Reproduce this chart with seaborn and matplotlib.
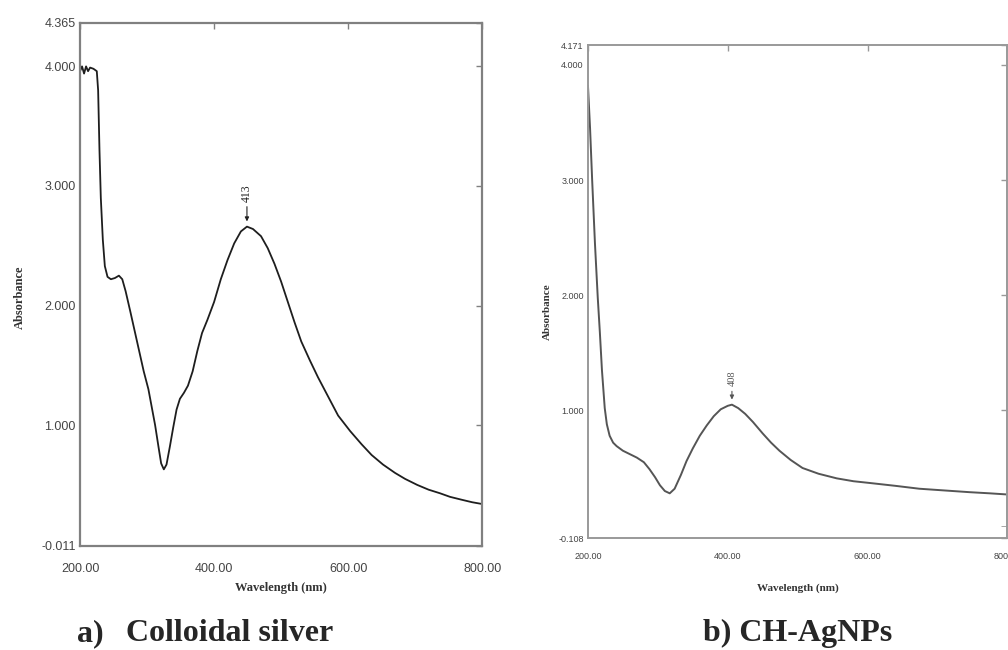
import matplotlib
matplotlib.use("Agg")
import matplotlib.pyplot as plt
import seaborn as sns
import pandas as pd

# Panel a: Colloidal silver
wl_a = [200, 203, 206, 209, 212, 215, 220, 225, 227, 229, 231, 234, 237, 241, 246, 252, 258, 263,
        268, 275, 285, 295, 302, 308, 312, 317, 321, 325, 329, 334, 339, 344, 349, 355, 361, 368,
        375, 382, 390, 400, 410, 420, 430, 440, 449, 458, 470, 480, 490, 500, 510, 520, 530, 543,
        555, 570, 585, 603, 620, 635, 652, 670, 685, 703, 720, 737, 752, 770, 785, 800]
abs_a = [3.96, 4.00, 3.94, 4.00, 3.96, 3.99, 3.98, 3.96, 3.80, 3.30, 2.90, 2.55, 2.33, 2.24, 2.22,
         2.23, 2.25, 2.22, 2.12, 1.95, 1.70, 1.45, 1.30, 1.12, 1.00, 0.82, 0.68, 0.63, 0.67, 0.82,
         0.98, 1.13, 1.22, 1.27, 1.33, 1.45, 1.62, 1.77, 1.88, 2.03, 2.22, 2.38, 2.52, 2.62, 2.66,
         2.64, 2.58, 2.48, 2.35, 2.20, 2.03, 1.86, 1.70, 1.54, 1.40, 1.24, 1.08, 0.95, 0.84, 0.75,
         0.67, 0.60, 0.55, 0.50, 0.46, 0.43, 0.40, 0.375, 0.355, 0.34]

# Panel b: CH-AgNPs
wl_b = [200, 203, 206, 210, 214, 217, 220, 224, 227, 231, 236, 241, 250, 260, 270, 280, 288, 296,
        303, 310, 317, 324, 333, 341, 350, 360, 370, 380, 390, 400, 406, 415, 425, 436, 450, 462,
        474, 490, 507, 530, 556, 580, 603, 640, 674, 710, 746, 775, 800]
abs_b = [3.82, 3.45, 3.00, 2.45, 1.98, 1.68, 1.35, 1.02, 0.88, 0.78, 0.72, 0.69, 0.65, 0.62, 0.59,
         0.55, 0.49, 0.42, 0.35, 0.30, 0.28, 0.32, 0.44, 0.56, 0.67, 0.78, 0.87, 0.95, 1.01, 1.04,
         1.05, 1.02, 0.97, 0.90, 0.80, 0.72, 0.65, 0.57, 0.50, 0.45, 0.41, 0.385, 0.37, 0.345,
         0.32, 0.305, 0.29, 0.28, 0.27]

x_ticks = [200, 400, 600, 800]
x_labels = ["200.00", "400.00", "600.00", "800.00"]
y_ticks_a = [-0.011, 1.0, 2.0, 3.0, 4.0, 4.365]
y_labels_a = ["-0.011", "1.000", "2.000", "3.000", "4.000", "4.365"]
y_ticks_b = [-0.108, 1.0, 2.0, 3.0, 4.0, 4.171]
y_labels_b = ["-0.108", "1.000", "2.000", "3.000", "4.000", "4.171"]
peak_a = (449, 2.66, "413")
peak_b = (406, 1.05, "408")

sns.set_style("white")
plt.rcParams['font.family'] = ['Liberation Sans', 'DejaVu Sans']

fig = plt.figure(figsize=(10.08, 6.5), dpi=100)
ax1 = fig.add_axes([0.0794, 0.160, 0.399, 0.805])
ax2 = fig.add_axes([0.5833, 0.1723, 0.416, 0.758])

df_a = pd.DataFrame({"wl": wl_a, "A": abs_a})
df_b = pd.DataFrame({"wl": wl_b, "A": abs_b})

sns.lineplot(data=df_a, x="wl", y="A", ax=ax1, color="#1e1e1e", lw=1.3, sort=False)
sns.lineplot(data=df_b, x="wl", y="A", ax=ax2, color="#555555", lw=1.4, sort=False)

def style(ax, yt, yl, ymin, ymax, tsize, lsize, fcol, lw):
    ax.set_xlim(200, 800)
    ax.set_ylim(ymin, ymax)
    ax.set_xticks(x_ticks)
    ax.set_xticklabels(x_labels)
    ax.set_yticks(yt)
    ax.set_yticklabels(yl)
    ax.tick_params(direction="in", length=4, width=1, colors=fcol, labelcolor="#444444",
                   labelsize=tsize, top=True, right=True, pad=3)
    for s in ax.spines.values():
        s.set_color(fcol)
        s.set_linewidth(lw)
    ax.set_xlabel("Wavelength (nm)", family="Liberation Serif", fontweight="bold",
                  fontsize=lsize, color="#333333")
    ax.set_ylabel("Absorbance", family="Liberation Serif", fontweight="bold",
                  fontsize=lsize, color="#333333")
    ax.grid(False)

style(ax1, y_ticks_a, y_labels_a, -0.011, 4.365, 9, 9, "#808080", 1.6)
style(ax2, y_ticks_b, y_labels_b, -0.108, 4.171, 6.5, 8, "#999999", 1.4)
ax2.set_yticks([0.0], minor=True)
ax2.tick_params(which="minor", direction="in", length=4, colors="#999999", right=True)
ax1.tick_params(axis="x", pad=12)
ax2.tick_params(axis="x", pad=10)
ax1.xaxis.labelpad = 5
ax2.xaxis.labelpad = 16
ax1.yaxis.set_label_coords(-0.135, 0.476)
ax2.yaxis.set_label_coords(-0.085, 0.46)

for ax, (px, py, lab), off, col, fs in [(ax1, peak_a, 0.19, "#222222", 8.5),
                                        (ax2, peak_b, 0.14, "#555555", 7.5)]:
    ax.annotate("", xy=(px, py + 0.02), xytext=(px, py + off),
                arrowprops=dict(arrowstyle="-|>", lw=0.8, color=col, mutation_scale=6))
    ax.text(px, py + off + 0.02, lab, rotation=90, ha="center", va="bottom",
            family="Liberation Serif", fontsize=fs, color=col)

yb = 1 - 641 / 650
fig.text(77 / 1008, yb, "a)", family="Liberation Serif", fontweight="bold",
         fontsize=23, va="baseline", ha="left")
fig.text(126 / 1008, yb, "Colloidal silver", family="Liberation Serif",
         fontweight="bold", fontsize=23, va="baseline", ha="left")
fig.text(703 / 1008, yb, "b) CH-AgNPs", family="Liberation Serif",
         fontweight="bold", fontsize=23, va="baseline", ha="left")

fig.savefig("out.png", dpi=100)
